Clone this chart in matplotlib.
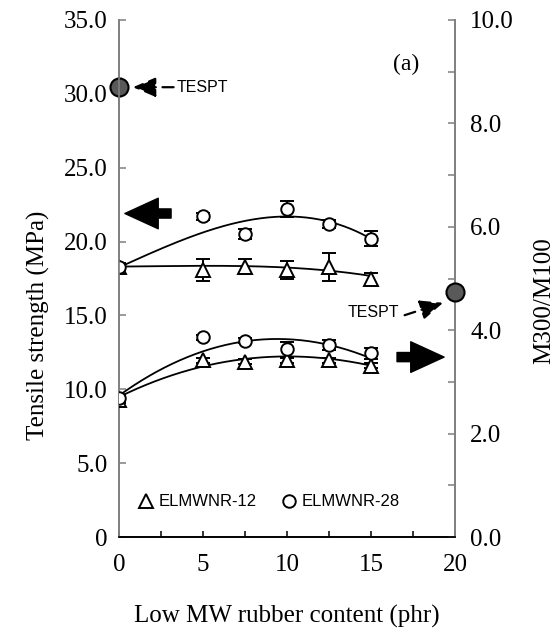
import numpy as np
import matplotlib
matplotlib.use('Agg')
import matplotlib.pyplot as plt
from matplotlib.lines import Line2D

# 数据
phr = [0, 5, 7.5, 10, 12.5, 15]

ts_12 = [18.3, 18.1, 18.3, 18.1, 18.3, 17.45]
ts_12_err = [0.2, 0.75, 0.5, 0.6, 0.95, 0.4]
ts_28 = [18.3, 21.7, 20.5, 22.2, 21.2, 20.2]
ts_28_err = [0.25, 0.25, 0.35, 0.55, 0.25, 0.5]

mr_12 = [2.65, 3.42, 3.39, 3.42, 3.42, 3.31]
mr_12_err = [0.05, 0.05, 0.05, 0.05, 0.05, 0.05]
mr_28 = [2.69, 3.86, 3.80, 3.63, 3.71, 3.55]
mr_28_err = [0.05, 0.05, 0.05, 0.15, 0.1, 0.1]

# 趋势线
trend_x = [0, 2.5, 5, 7.5, 10, 12.5, 15]
trend_ts_12 = [18.3, 18.35, 18.35, 18.35, 18.2, 18.07, 17.66]
trend_ts_28 = [18.3, 19.4, 20.67, 21.46, 21.69, 21.28, 20.22]
trend_mr_12 = [2.71, 3.04, 3.33, 3.42, 3.49, 3.46, 3.31]
trend_mr_28 = [2.75, 3.20, 3.62, 3.80, 3.81, 3.71, 3.46]

tespt_ts = 30.45
tespt_mr = 4.74

serif = 'Liberation Serif'
sans = 'Liberation Sans'
gray = '#7f7f7f'

fig = plt.figure(figsize=(5.56, 6.31), dpi=100)
ax = fig.add_axes([119/556, 1 - 537/631, 336/556, 517/631])
ax2 = ax.twinx()

def smooth(x, y, deg=3):
    p = np.polyfit(x, y, deg)
    xs = np.linspace(x[0], x[-1], 200)
    return xs, np.polyval(p, xs)

mk = dict(mfc='white', mec='black', mew=1.4, ls='none', ecolor='black',
          elinewidth=1.4, capsize=5, capthick=1.4, zorder=3)

# 拉伸强度
for t in (trend_ts_12, trend_ts_28):
    ax.plot(*smooth(trend_x, t), color='black', lw=1.3, zorder=2)
ax.errorbar(phr, ts_12, yerr=ts_12_err, marker='^', ms=10.5, **mk)
ax.errorbar(phr, ts_28, yerr=ts_28_err, marker='o', ms=9, **mk)

# M300/M100
for t in (trend_mr_12, trend_mr_28):
    ax2.plot(*smooth(trend_x, t), color='black', lw=1.3, zorder=2)
ax2.errorbar(phr, mr_12, yerr=mr_12_err, marker='^', ms=10.5, **mk)
ax2.errorbar(phr, mr_28, yerr=mr_28_err, marker='o', ms=9, **mk)

# TESPT
ax.plot([0], [tespt_ts], marker='o', ms=13, mfc='#595959', mec='black',
        mew=1.5, clip_on=False, zorder=5)
ax2.plot([20], [tespt_mr], marker='o', ms=13, mfc='#595959', mec='black',
         mew=1.5, clip_on=False, zorder=5)

dash = dict(arrowstyle='-|>,head_length=1.4,head_width=0.6', lw=1.6,
            ls=(0, (5, 3)), color='black', shrinkA=0, shrinkB=0)
ax.annotate('', xy=(0.83, 30.45), xytext=(3.25, 30.45), arrowprops=dash)
ax.text(3.45, 30.45, 'TESPT', family=sans, fontsize=11.5, va='center', ha='left')
ax2.annotate('', xy=(19.29, 4.53), xytext=(17.0, 4.29), arrowprops=dash)
ax.text(13.63, 15.23, 'TESPT', family=sans, fontsize=11.5, va='center', ha='left')

# 大箭头
big = dict(arrowstyle='simple,head_length=1.2,head_width=1.1,tail_width=0.33',
           color='black', shrinkA=0, shrinkB=0, mutation_scale=20)
ax.annotate('', xy=(0.35, 21.9), xytext=(3.1, 21.9), arrowprops=big)
ax2.annotate('', xy=(19.35, 3.48), xytext=(16.55, 3.48), arrowprops=big)

ax.text(17.1, 32.0, '(a)', family=serif, fontsize=17, ha='center', va='center')

# 图例
h1 = Line2D([], [], marker='^', ms=10.5, mfc='white', mec='black', mew=1.4, ls='none')
h2 = Line2D([], [], marker='o', ms=9, mfc='white', mec='black', mew=1.4, ls='none')
ax.legend([h1, h2], ['ELMWNR-12', 'ELMWNR-28'], loc='center left',
          bbox_to_anchor=(0.012, 0.068), ncol=2, frameon=False,
          handlelength=1.0, handletextpad=0.25, columnspacing=1.45,
          prop=dict(family=sans, size=12))

# 坐标
ax.set_xlim(0, 20)
ax.set_ylim(0, 35)
ax2.set_ylim(0, 10)
ax.set_xticks(np.arange(0, 20.1, 2.5))
ax.set_xticklabels(['0', '', '5', '', '10', '', '15', '', '20'])
ax.set_yticks(np.arange(0, 35.1, 5))
ax.set_yticklabels(['0'] + ['%.1f' % v for v in np.arange(5, 35.1, 5)])
ax2.set_yticks(np.arange(0, 10.1, 1))
ax2.set_yticklabels(['%.1f' % v if i % 2 == 0 else '' for i, v in enumerate(np.arange(0, 10.1, 1))])

for a in (ax, ax2):
    a.spines['top'].set_visible(False)
    a.spines['left'].set_color(gray)
    a.spines['right'].set_color(gray)
    a.spines['bottom'].set_color('black')
    for s in a.spines.values():
        s.set_linewidth(1.2)
ax.tick_params(axis='x', direction='in', length=4, width=1.1, pad=12,
               labelsize=18, labelfontfamily=serif, color='black')
ax.tick_params(axis='y', direction='in', length=5, width=1.1, pad=8,
               labelsize=18, labelfontfamily=serif, color=gray)
ax2.tick_params(axis='y', direction='in', length=5, width=1.1, pad=11,
                labelsize=18, labelfontfamily=serif, color=gray)

ax.set_xlabel('Low MW rubber content (phr)', family=serif, fontsize=18, labelpad=21)
ax.set_ylabel('Tensile strength (MPa)', family=serif, fontsize=18)
ax.yaxis.set_label_coords(-0.205, 0.41)
ax2.set_ylabel('M300/M100', family=serif, fontsize=18)
ax2.yaxis.set_label_coords(1.232, 0.458)

fig.savefig('out.png', dpi=100)
